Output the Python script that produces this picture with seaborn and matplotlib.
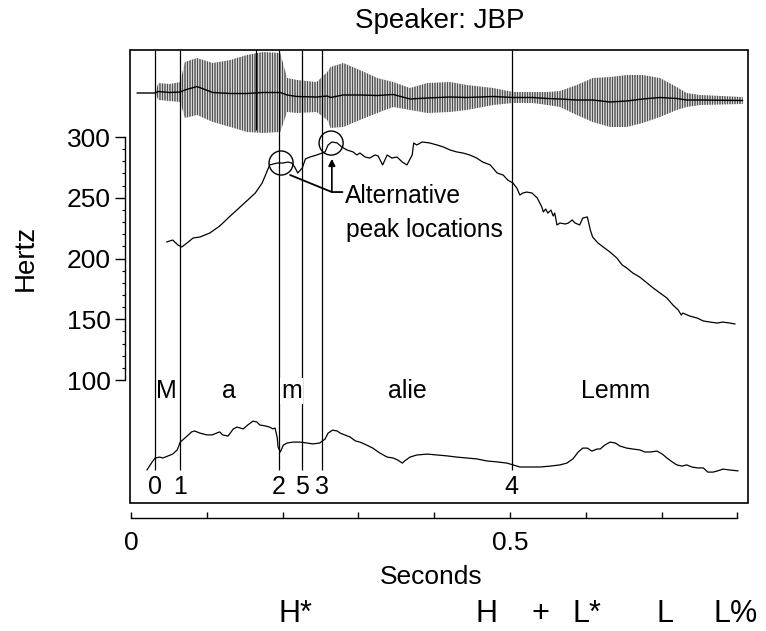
import numpy as np
import pandas as pd
import seaborn as sns
import matplotlib
matplotlib.use("Agg")
import matplotlib.pyplot as plt
from matplotlib.patches import Rectangle
from matplotlib.ticker import FixedLocator, FixedFormatter

# ---------------- data ----------------
# Waveform envelope (time in s, amplitude in arbitrary units)
wave_t = [0.008, 0.032, 0.036, 0.051, 0.065, 0.071, 0.087, 0.108, 0.131, 0.153,
          0.174, 0.197, 0.206, 0.219, 0.245, 0.259, 0.263, 0.280, 0.302, 0.325,
          0.346, 0.368, 0.391, 0.421, 0.443, 0.478, 0.504, 0.530, 0.549, 0.566,
          0.588, 0.609, 0.632, 0.654, 0.675, 0.698, 0.720, 0.733, 0.751, 0.807]
wave_upper = [0.0, 0.0, 1.0, 0.9, 1.1, 3.1, 3.5, 3.0, 3.3, 3.8,
              4.1, 4.0, 1.5, 1.3, 1.1, 2.1, 2.6, 3.0, 2.3, 1.5,
              1.1, 0.5, 1.0, 1.1, 0.8, 0.5, 0.1, 0.1, 0.1, 0.2,
              0.8, 1.5, 1.6, 1.8, 1.8, 1.5, 0.6, 0.0, -0.2, -0.4]
wave_lower = [0.0, 0.0, -0.7, -0.8, -0.9, -2.5, -2.2, -2.9, -3.4, -3.9,
              -4.0, -3.9, -1.9, -2.0, -1.9, -2.7, -3.5, -3.4, -2.7, -2.0,
              -1.4, -1.7, -2.0, -1.9, -1.7, -1.2, -1.0, -1.0, -1.2, -1.4,
              -2.2, -2.9, -3.4, -3.4, -3.0, -2.4, -1.7, -1.4, -1.2, -1.1]
spike_t = [0.165]
spike_top = [4.5]
spike_bottom = [-3.7]

# F0 contour (s, Hz)
f0_t = [0.047, 0.055, 0.062, 0.067, 0.074, 0.082, 0.091, 0.104, 0.117, 0.131,
        0.144, 0.154, 0.164, 0.173, 0.183, 0.193, 0.201, 0.207, 0.212, 0.216,
        0.220, 0.226, 0.230, 0.236, 0.245, 0.252, 0.256, 0.260, 0.265, 0.272,
        0.278, 0.285, 0.293, 0.298, 0.302, 0.309, 0.315, 0.322, 0.326, 0.332,
        0.338, 0.344, 0.351, 0.358, 0.364, 0.371, 0.373, 0.377, 0.384, 0.394,
        0.404, 0.412, 0.421, 0.430, 0.438, 0.447, 0.456, 0.464, 0.474, 0.483,
        0.491, 0.497, 0.504, 0.509, 0.513, 0.517, 0.522, 0.529, 0.536, 0.542,
        0.544, 0.547, 0.550, 0.554, 0.557, 0.559, 0.562, 0.566, 0.573, 0.577,
        0.582, 0.586, 0.592, 0.596, 0.602, 0.603, 0.606, 0.609, 0.616, 0.623,
        0.632, 0.641, 0.648, 0.654, 0.662, 0.671, 0.681, 0.689, 0.698, 0.707,
        0.715, 0.722, 0.726, 0.728, 0.737, 0.747, 0.755, 0.764, 0.773, 0.781,
        0.790, 0.797]
f0_hz = [213.6, 215.2, 211.1, 209.5, 212.8, 216.9, 217.7, 221.0, 226.7, 235.0,
         242.4, 248.1, 253.9, 262.1, 277.0, 278.6, 278.6, 279.4, 278.6, 275.3,
         270.4, 274.5, 281.9, 283.5, 285.2, 286.8, 287.7, 293.4, 295.9, 295.1,
         291.8, 289.3, 287.7, 285.2, 286.8, 283.5, 282.7, 285.2, 284.4, 277.0,
         285.2, 282.7, 283.5, 279.4, 277.0, 285.2, 295.1, 293.4, 295.9, 295.1,
         293.4, 291.8, 289.3, 287.7, 286.8, 285.2, 282.7, 279.4, 277.0, 270.4,
         268.7, 264.6, 262.1, 258.0, 252.3, 253.9, 254.7, 253.9, 249.8, 242.4,
         238.3, 240.7, 237.4, 239.9, 235.0, 237.4, 227.6, 229.2, 228.4, 229.2,
         231.7, 229.2, 227.6, 233.3, 234.2, 231.7, 223.5, 217.7, 212.8, 209.5,
         205.3, 200.4, 194.7, 192.2, 188.1, 184.8, 179.8, 175.7, 171.6, 167.5,
         161.7, 157.6, 153.5, 155.1, 152.7, 151.0, 148.6, 147.7, 146.9, 147.7,
         146.9, 146.1]

# Intensity contour (s, dB)
int_t = [0.021, 0.028, 0.032, 0.038, 0.042, 0.049, 0.055, 0.061, 0.065, 0.074,
         0.080, 0.084, 0.091, 0.100, 0.107, 0.113, 0.117, 0.121, 0.128, 0.135,
         0.140, 0.144, 0.148, 0.154, 0.161, 0.166, 0.170, 0.177, 0.183, 0.187,
         0.190, 0.193, 0.194, 0.197, 0.201, 0.206, 0.214, 0.223, 0.232, 0.240,
         0.249, 0.256, 0.260, 0.266, 0.272, 0.276, 0.282, 0.289, 0.296, 0.302,
         0.311, 0.319, 0.328, 0.338, 0.346, 0.352, 0.358, 0.361, 0.368, 0.377,
         0.391, 0.404, 0.417, 0.430, 0.443, 0.456, 0.470, 0.483, 0.496, 0.504,
         0.513, 0.526, 0.540, 0.553, 0.566, 0.575, 0.583, 0.590, 0.596, 0.602,
         0.608, 0.615, 0.619, 0.625, 0.632, 0.639, 0.645, 0.654, 0.662, 0.671,
         0.678, 0.685, 0.694, 0.701, 0.707, 0.714, 0.720, 0.727, 0.733, 0.740,
         0.747, 0.755, 0.761, 0.768, 0.774, 0.781, 0.790, 0.801]
int_db = [51.0, 53.7, 55.0, 55.3, 55.0, 55.7, 56.3, 57.7, 60.3, 62.3,
          63.7, 64.0, 63.3, 62.7, 62.7, 63.3, 63.7, 62.7, 62.3, 64.7,
          65.3, 65.0, 64.7, 66.0, 67.3, 67.0, 66.0, 65.7, 65.3, 64.7,
          65.0, 61.7, 58.7, 57.0, 59.3, 60.0, 60.3, 60.3, 60.0, 59.7,
          60.0, 61.3, 63.3, 64.3, 64.0, 63.3, 62.7, 62.0, 60.7, 60.3,
          59.3, 58.3, 56.7, 55.3, 55.0, 54.3, 53.3, 54.0, 55.3, 56.0,
          56.3, 56.0, 55.7, 55.3, 55.0, 54.7, 54.0, 53.7, 53.3, 52.7,
          52.0, 52.0, 52.0, 52.3, 52.7, 53.3, 54.7, 57.0, 58.3, 58.3,
          57.3, 58.0, 58.0, 59.3, 60.3, 60.0, 59.0, 58.3, 58.0, 57.7,
          57.0, 57.0, 57.3, 56.3, 55.0, 53.7, 52.7, 52.3, 52.7, 52.0,
          51.7, 51.7, 50.3, 50.3, 50.7, 51.3, 51.0, 50.7]

# Segment boundaries and labels
bound_t = [0.032, 0.065, 0.195, 0.225, 0.252, 0.502]
bound_labels = ["0", "1", "2", "5", "3", "4"]
seg_t = [0.047, 0.129, 0.212, 0.365, 0.639]
seg_labels = ["M", "a", "m", "alie", "Lemm"]

# Alternative peak locations (s, Hz)
peak_t = [0.198, 0.264]
peak_hz = [278.6, 295.0]

# Tone labels
tone_t = [0.194, 0.455, 0.528, 0.583, 0.693, 0.768]
tone_labels = ["H*", "H", "+", "L*", "L", "L%"]

hz_ticks = [100, 150, 200, 250, 300]
sec_ticks = [0.0, 0.1, 0.2, 0.3, 0.4, 0.5, 0.6, 0.7, 0.8]
sec_ticklabels = ["0", "", "", "", "", "0.5", "", "", ""]

# ---------------- figure ----------------
sns.set_style("ticks")
plt.rcParams['font.family'] = ['Liberation Sans', 'DejaVu Sans']
plt.rcParams['hatch.linewidth'] = 0.5
for key in ['text.color', 'axes.labelcolor', 'xtick.color', 'ytick.color',
            'axes.edgecolor']:
    plt.rcParams[key] = 'black'

fig = plt.figure(figsize=(7.66, 6.31), dpi=100)
ax = fig.add_axes([130 / 766, 128 / 631, 618 / 766, 453 / 631])
ax.set_xlim(-0.0013, 0.814)
ax.set_ylim(-1.2, 371.6)

# frame
ax.add_patch(Rectangle((0, 0), 1, 1, transform=ax.transAxes, fill=False,
                       lw=1.2, ec='black', clip_on=False, zorder=5))
for s in ['top', 'right']:
    ax.spines[s].set_visible(False)
ax.spines['left'].set_position(('outward', 3.6))
ax.spines['left'].set_bounds(100, 300)
ax.spines['bottom'].set_position(('outward', 11))
ax.spines['bottom'].set_bounds(0, 0.8)
for s in ['left', 'bottom']:
    ax.spines[s].set_linewidth(1.0)
    ax.spines[s].set_color('black')

ax.yaxis.set_major_locator(FixedLocator(hz_ticks))
ax.yaxis.set_minor_locator(FixedLocator(list(range(100, 301, 10))))
ax.tick_params(axis='y', which='major', direction='out', length=7, width=1.0,
               pad=3, labelsize=19, colors='black')
ax.tick_params(axis='y', which='minor', direction='out', length=2.5, width=0.8,
               colors='black')
ax.xaxis.set_major_locator(FixedLocator(sec_ticks))
ax.xaxis.set_major_formatter(FixedFormatter(sec_ticklabels))
ax.tick_params(axis='x', which='major', direction='in', length=4.5, width=1.0,
               pad=9, labelsize=19, colors='black')

ax.set_xlabel("Seconds", fontsize=19, color='black')
ax.xaxis.set_label_coords(0.487, -0.163)
ax.xaxis.label.set_va('center')
ax.set_ylabel("Hertz", fontsize=20, color='black')
ax.yaxis.set_label_coords(-0.168, 0.541)
ax.yaxis.label.set_va('center')
ax.set_title("Speaker: JBP", fontsize=20, x=0.502, y=1.049, pad=0, color='black')

# boundaries
ax.vlines(bound_t, 26, 371.6, color='black', lw=0.9, zorder=2)
for t, lab in zip(bound_t, bound_labels):
    ax.text(t, 12, lab, ha='center', va='center', fontsize=18, color='black')
for t, lab in zip(seg_t, seg_labels):
    over_line = any(abs(t - b) < 0.015 for b in bound_t)
    kw = dict(bbox=dict(boxstyle='square,pad=0.05', fc='white', ec='none')) if over_line else {}
    ax.text(t, 91, lab, ha='center', va='center', fontsize=18, zorder=4,
            color='black', **kw)

# F0
f0_df = pd.DataFrame({"t": f0_t, "hz": f0_hz})
sns.lineplot(data=f0_df, x="t", y="hz", ax=ax, color='black', lw=0.9,
             estimator=None, sort=False, zorder=3)
sns.scatterplot(x=peak_t, y=peak_hz, ax=ax, s=300, marker='o',
                facecolor='none', edgecolor='black', linewidth=1.0, zorder=4)

# annotation
ax.plot([0.210, 0.265, 0.279], [268.7, 254.7, 254.7], color='black', lw=1.3)
ax.annotate('', xy=(0.265, 282.0), xytext=(0.265, 254.7),
            arrowprops=dict(arrowstyle='-|>', color='black', lw=1.2,
                            mutation_scale=10, shrinkA=0, shrinkB=0))
ax.text(0.282, 245.7, "Alternative", fontsize=17.7, ha='left', va='baseline',
        color='black')
ax.text(0.284, 217.7, "peak locations", fontsize=17.7, ha='left', va='baseline',
        color='black')

# tone labels
for t, lab in zip(tone_t, tone_labels):
    ax.text(t, -0.263, lab, transform=ax.get_xaxis_transform(), fontsize=22,
            ha='left', va='baseline', color='black')

# waveform overlay
ax_w = ax.twinx()
ax_w.set_ylim(-41, 4.3)
ax_w.set_axis_off()
ax_w.fill_between(wave_t, wave_lower, wave_upper, facecolor='none',
                  edgecolor='black', linewidth=0, hatch='|' * 10)
wave_center = [(u + l) / 2 for u, l in zip(wave_upper, wave_lower)]
ax_w.plot(wave_t, wave_center, color='black', lw=1.0)
ax_w.vlines(spike_t, spike_bottom, spike_top, color='black', lw=0.9)

# intensity overlay
ax_i = ax.twinx()
ax_i.set_ylim(40, 191)
ax_i.set_axis_off()
int_df = pd.DataFrame({"t": int_t, "db": int_db})
sns.lineplot(data=int_df, x="t", y="db", ax=ax_i, color='black', lw=0.9,
             estimator=None, sort=False)

fig.savefig("out.png", dpi=100)
